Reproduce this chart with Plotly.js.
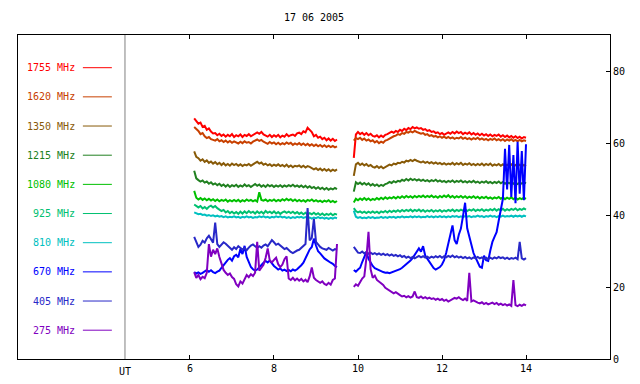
<!DOCTYPE html>
<html><head><meta charset="utf-8">
<script src="https://cdn.plot.ly/plotly-3.0.1.min.js"></script>
<style>html,body{margin:0;padding:0;background:#fff;}#chart{width:640px;height:384px;}</style>
</head><body><div id="chart"></div>
<script>
const chartTitle = "17 06 2005";
const axisLabel = "UT";
const labels = ["1755 MHz","1620 MHz","1350 MHz","1215 MHz","1080 MHz","925 MHz","810 MHz","670 MHz","405 MHz","275 MHz"];
const colors = ["#ff0000","#c84000","#885a08","#208020","#00c000","#00c070","#00c0c0","#0000ff","#2828c8","#8000c0"];
const xTicks = [6, 8, 10, 12, 14];
const yTicks = [0, 20, 40, 60, 80];

const hours = [
6.10,6.15,6.20,6.25,6.30,6.35,6.40,6.45,6.50,6.55,
6.60,6.65,6.70,6.75,6.80,6.85,6.90,6.95,7.00,7.05,
7.10,7.15,7.20,7.25,7.30,7.35,7.40,7.45,7.50,7.55,
7.60,7.65,7.70,7.75,7.80,7.85,7.90,7.95,8.00,8.05,
8.10,8.15,8.20,8.25,8.30,8.35,8.40,8.45,8.50,8.55,
8.60,8.65,8.70,8.75,8.80,8.85,8.90,8.95,9.00,9.05,
9.10,9.15,9.20,9.25,9.30,9.35,9.40,9.45,9.50,
9.70,
9.90,9.95,10.00,10.05,10.10,10.15,10.20,10.25,10.30,10.35,
10.40,10.45,10.50,10.55,10.60,10.65,10.70,10.75,10.80,10.85,
10.90,10.95,11.00,11.05,11.10,11.15,11.20,11.25,11.30,11.35,
11.40,11.45,11.50,11.55,11.60,11.65,11.70,11.75,11.80,11.85,
11.90,11.95,12.00,12.05,12.10,12.15,12.20,12.25,12.30,12.35,
12.40,12.45,12.50,12.55,12.60,12.65,12.70,12.75,12.80,12.85,
12.90,12.95,13.00,13.05,13.10,13.15,13.20,13.25,13.30,13.35,
13.40,13.45,13.50,13.55,13.60,13.65,13.70,13.75,13.80,13.85,
13.90,13.95,14.00];

const f1755 = [
67.0,66.2,65.5,65.8,64.6,64.9,63.8,64.2,63.3,62.8,
62.9,62.3,62.7,62.1,62.5,61.9,62.4,62.0,62.6,61.8,
62.3,62.0,62.5,61.8,62.4,62.1,62.6,62.0,62.3,62.8,
63.1,62.7,63.2,62.5,62.2,61.9,62.4,61.8,62.3,61.9,
62.4,61.7,62.2,61.9,62.6,62.0,62.3,62.5,62.1,62.8,
63.0,62.6,63.4,63.1,64.4,63.9,63.2,62.0,62.4,61.6,
61.9,61.2,61.6,60.9,61.4,60.8,61.3,60.7,61.1,
null,
56.0,62.5,63.2,62.6,63.0,62.4,62.9,62.3,62.7,62.1,
61.9,62.3,61.7,62.2,61.8,62.4,62.6,62.9,63.3,63.0,
63.5,63.2,63.8,63.5,64.1,63.7,64.3,64.0,64.6,64.2,
64.5,64.1,64.3,63.8,64.0,63.5,63.7,63.2,63.4,62.9,
63.1,62.6,62.9,62.4,62.8,63.1,62.7,63.2,62.8,63.3,
62.9,63.2,62.6,63.0,62.7,63.1,62.5,62.9,62.4,62.8,
62.3,62.7,62.2,62.6,62.1,62.5,62.0,62.4,62.1,62.5,
61.9,62.3,61.8,62.2,61.7,62.1,61.6,62.0,61.5,61.9,
61.4,61.8,61.6];

const f1620 = [
64.6,64.0,63.5,62.6,62.9,62.0,61.5,61.8,61.2,61.0,
60.8,61.2,60.6,60.9,60.4,60.8,60.3,60.7,60.2,60.6,
60.4,60.0,60.5,60.1,60.6,60.2,60.4,60.0,60.5,60.8,
61.1,60.7,61.0,60.5,60.3,59.9,60.4,60.0,60.3,59.8,
60.2,59.7,60.1,59.8,60.3,59.9,60.2,59.6,60.0,59.7,
60.1,59.6,60.0,59.5,59.9,59.4,59.8,59.3,59.7,59.2,
59.6,59.1,59.5,59.0,59.4,59.0,59.3,58.9,59.2,
null,
60.8,61.5,61.2,61.6,61.0,61.4,60.8,61.1,60.6,60.9,
60.3,60.7,60.1,60.5,60.2,60.8,61.0,61.4,61.7,62.0,
62.2,62.6,62.4,62.9,62.7,63.2,63.0,63.4,63.1,63.5,
63.2,63.0,62.7,62.9,62.4,62.6,62.1,62.3,61.9,62.1,
61.7,62.0,61.6,61.9,61.5,61.8,61.4,61.7,61.3,61.6,
61.4,61.8,61.3,61.6,61.2,61.5,61.1,61.5,61.2,61.6,
61.1,61.4,61.0,61.3,60.9,61.3,61.0,61.4,60.9,61.2,
60.8,61.2,60.7,61.1,60.8,61.2,60.7,61.0,60.6,61.0,
60.6,60.9,60.7];

const f1350 = [
57.8,56.3,55.9,55.2,55.6,54.9,55.3,54.6,55.0,54.4,
54.8,54.2,54.6,54.0,54.5,53.9,54.3,53.8,54.4,54.0,
54.3,53.8,54.2,53.7,54.1,53.9,54.3,53.8,54.2,54.6,
54.9,54.4,54.7,54.1,54.4,53.9,54.2,53.7,54.1,53.8,
54.2,53.7,54.0,53.6,54.1,53.5,53.9,53.4,53.8,53.6,
53.9,53.4,53.8,53.3,53.7,53.5,53.2,52.8,53.1,52.6,
53.0,52.5,52.9,52.4,52.8,52.3,52.7,52.4,52.8,
null,
51.0,54.2,54.6,54.0,54.4,53.9,54.3,53.7,54.0,53.5,
53.3,53.7,53.2,53.6,53.1,53.5,53.8,54.1,53.9,54.4,
54.2,54.6,54.5,54.9,54.7,55.2,55.0,55.4,55.1,55.5,
55.2,55.0,54.7,55.0,54.6,54.9,54.5,54.8,54.4,54.7,
54.3,54.6,54.2,54.5,54.1,54.4,54.2,54.6,54.1,54.5,
54.2,54.6,54.0,54.4,54.1,54.5,54.0,54.3,53.9,54.3,
54.0,54.4,53.9,54.3,54.0,54.4,53.8,54.2,53.9,54.3,
53.8,54.2,53.7,54.1,53.8,54.2,53.6,54.0,53.7,54.1,
53.6,54.0,53.7];

const f1215 = [
52.4,50.3,49.8,49.4,49.7,49.1,49.4,48.8,49.2,48.6,
48.9,48.4,48.8,48.2,48.6,48.0,48.5,47.9,48.4,48.1,
48.5,47.9,48.3,48.0,48.6,48.1,48.4,47.9,48.3,48.7,
48.2,48.6,48.0,48.4,47.9,48.5,48.1,48.4,47.9,48.3,
48.0,48.4,47.9,48.3,48.0,48.4,48.1,48.5,48.0,48.3,
47.9,48.3,47.8,48.2,47.7,48.1,47.6,47.9,47.4,47.8,
47.3,47.7,47.2,47.6,47.1,47.5,47.2,47.6,47.3,
null,
46.6,49.2,48.7,49.1,48.6,49.0,48.5,48.9,48.3,48.7,
48.2,48.6,48.1,48.5,48.2,48.7,48.9,49.3,49.0,49.5,
49.2,49.6,49.4,49.9,49.6,50.1,49.7,50.2,49.8,50.1,
49.7,50.0,49.6,49.9,49.5,49.8,49.4,49.8,49.5,49.9,
49.4,49.7,49.3,49.6,49.2,49.6,49.3,49.7,49.2,49.6,
49.3,49.7,49.2,49.5,49.1,49.5,49.2,49.6,49.1,49.4,
49.0,49.4,49.1,49.5,49.0,49.3,48.9,49.3,49.0,49.4,
48.9,49.3,48.8,49.2,48.9,49.3,48.8,49.1,48.7,49.1,
48.8,49.2,48.9];

const f1080 = [
46.8,44.9,44.4,44.8,44.3,44.7,44.2,44.6,44.1,44.5,
44.0,44.4,43.9,44.3,44.0,44.4,43.8,44.2,43.9,44.3,
43.9,44.3,43.8,44.2,43.9,44.4,44.0,44.3,43.9,44.2,
43.8,46.4,44.3,44.1,44.4,43.9,44.3,44.0,44.4,43.9,
44.3,44.0,44.5,44.1,44.6,44.2,44.5,44.0,44.4,43.9,
44.3,43.9,44.2,43.8,44.3,44.0,44.4,43.9,44.2,43.8,
44.1,43.7,44.1,43.8,44.2,43.7,44.0,43.6,44.0,
null,
43.6,44.6,44.2,44.7,44.3,44.8,44.3,44.7,44.2,44.6,
44.3,44.8,44.4,44.9,44.5,45.0,44.6,45.0,44.7,45.1,
44.7,45.2,44.8,45.3,44.9,45.4,45.0,45.3,44.9,45.4,
45.0,45.4,45.1,45.5,45.0,45.4,45.1,45.5,45.0,45.3,
44.9,45.4,45.0,45.5,45.1,45.6,45.0,45.4,44.9,45.3,
45.0,45.4,44.9,45.3,44.8,45.2,44.9,45.3,44.8,45.2,
44.7,45.1,44.8,45.2,44.7,45.0,44.6,45.0,44.7,45.1,
44.6,45.0,44.5,44.9,44.6,45.0,44.5,44.9,44.4,44.8,
44.5,44.9,44.6];

const f925 = [
43.0,42.5,42.2,42.6,41.9,42.3,41.8,42.4,42.7,42.2,
42.6,42.0,41.6,41.2,41.5,40.8,41.2,40.6,41.0,40.5,
40.9,40.4,41.0,40.5,41.1,40.6,41.2,40.7,41.0,40.5,
41.1,40.6,41.0,40.5,41.2,40.7,41.0,40.6,41.1,40.5,
40.9,40.4,40.8,41.1,40.7,41.0,40.6,41.0,40.5,40.9,
40.4,40.8,40.3,40.7,40.2,40.6,40.3,40.7,40.2,40.6,
40.1,40.5,40.0,40.4,40.1,40.5,40.0,40.4,40.2,
null,
42.0,41.2,40.8,41.1,40.7,41.0,40.6,41.0,40.7,41.1,
40.7,41.0,40.6,41.1,40.8,41.2,40.8,41.3,40.9,41.3,
41.0,41.4,41.0,41.5,41.1,41.5,41.2,41.6,41.1,41.5,
41.2,41.6,41.1,41.5,41.0,41.4,41.1,41.5,41.0,41.4,
41.1,41.5,41.0,41.4,41.1,41.5,41.2,41.6,41.1,41.5,
41.2,41.6,41.3,41.7,41.2,41.6,41.3,41.7,41.2,41.6,
41.3,41.7,41.2,41.6,41.3,41.7,41.4,41.8,41.3,41.7,
41.4,41.8,41.3,41.7,41.4,41.8,41.5,41.9,41.4,41.8,
41.5,41.9,41.6];

const f810 = [
40.8,40.5,40.3,40.4,40.1,40.2,39.9,40.1,39.8,40.0,
39.7,39.9,39.6,39.8,39.5,39.7,39.4,39.6,39.5,39.7,
39.4,39.6,39.3,39.6,39.4,39.7,39.4,39.6,39.3,39.5,
39.4,39.7,39.5,39.7,39.4,39.6,39.3,39.6,39.4,39.7,
39.5,39.7,39.4,39.6,39.3,39.5,39.2,39.5,39.3,39.6,
39.4,39.6,39.3,39.5,39.2,39.4,39.1,39.4,39.2,39.5,
39.2,39.4,39.1,39.3,39.0,39.3,39.1,39.4,39.2,
null,
41.3,39.6,39.3,39.5,39.2,39.4,39.2,39.5,39.3,39.5,
39.2,39.4,39.3,39.6,39.3,39.5,39.3,39.6,39.4,39.6,
39.3,39.6,39.4,39.7,39.4,39.6,39.5,39.7,39.4,39.7,
39.5,39.7,39.4,39.6,39.5,39.8,39.5,39.7,39.4,39.7,
39.5,39.8,39.5,39.7,39.4,39.7,39.5,39.8,39.6,39.8,
39.5,39.7,39.5,39.8,39.6,39.8,39.5,39.7,39.6,39.9,
39.6,39.8,39.5,39.8,39.6,39.9,39.6,39.8,39.5,39.8,
39.6,39.9,39.6,39.8,39.7,39.9,39.6,39.9,39.7,39.9,
39.6,39.9,39.7];

const f670 = [
24.2,23.8,24.1,23.7,24.0,24.4,24.8,24.3,24.7,24.2,
23.9,24.3,24.6,25.4,26.2,26.9,27.6,28.1,27.4,28.6,
29.0,28.3,30.6,29.2,31.5,28.4,26.8,25.6,25.0,24.6,
24.9,25.6,26.2,26.8,27.3,26.9,27.4,26.5,25.9,25.4,
24.9,25.2,24.6,24.9,24.5,24.8,24.4,24.9,24.6,25.0,
25.5,26.1,26.8,28.0,29.4,30.5,31.2,33.5,31.6,30.0,
29.4,28.6,28.0,27.6,27.1,26.8,26.5,25.9,25.6,
null,
24.8,24.3,24.9,25.4,27.0,28.6,29.8,27.9,26.7,25.9,
25.3,25.0,24.6,24.4,24.2,24.0,24.1,23.9,24.1,24.3,
24.5,24.8,25.0,25.4,25.9,26.3,26.8,27.4,28.1,29.0,
29.6,30.8,29.9,31.4,28.8,27.9,26.8,25.9,25.3,24.9,
25.2,25.6,26.3,27.5,29.6,32.4,34.8,37.2,33.1,32.0,
34.6,36.3,39.8,43.5,36.4,34.2,31.3,29.5,28.2,27.0,
25.7,25.4,28.8,27.5,27.3,30.2,32.6,34.0,35.3,38.5,
41.2,44.6,58.5,47.2,59.6,45.1,56.8,43.4,60.5,46.0,
57.9,44.2,59.8];

const f405 = [
34.0,32.6,31.2,31.8,32.9,32.4,33.6,34.3,33.2,32.4,
38.0,32.0,31.2,31.8,32.5,32.1,31.5,30.8,30.4,31.1,
30.6,31.4,31.0,30.5,30.9,30.3,31.0,31.6,31.9,31.3,
30.9,31.4,31.0,31.6,31.9,31.4,32.2,33.1,32.5,31.8,
32.1,31.5,31.0,30.6,30.9,30.2,29.8,29.5,29.9,30.2,
30.4,30.9,31.5,32.0,42.0,33.0,33.7,39.0,32.6,31.8,
31.2,30.8,30.5,30.4,30.9,30.5,30.2,30.6,30.4,
null,
31.2,30.3,29.6,29.5,29.9,29.4,29.8,29.3,29.6,29.2,
29.5,29.1,29.4,29.0,29.3,28.9,29.2,28.8,29.1,28.7,
29.0,28.6,28.9,28.4,28.7,28.2,28.5,28.1,28.4,28.0,
28.4,28.7,28.3,28.6,28.2,28.5,28.1,28.5,28.2,28.6,
28.3,28.7,28.2,28.6,28.3,28.7,28.4,28.8,28.3,28.6,
28.2,28.5,28.1,28.4,28.0,28.3,27.9,28.3,28.0,28.4,
28.0,28.3,27.9,28.2,27.8,28.2,27.9,28.3,28.0,28.4,
28.1,28.3,27.9,28.2,27.8,28.1,27.9,28.2,27.8,32.6,
28.0,27.7,28.1];

const f275 = [
24.2,22.6,23.4,22.2,22.9,22.5,24.0,32.0,28.5,30.4,
29.2,30.8,28.4,26.5,24.8,24.0,23.4,23.8,22.8,22.3,
20.8,20.2,21.6,21.0,22.4,23.4,22.8,23.6,23.1,24.0,
32.6,24.6,25.4,26.2,28.1,30.8,27.4,26.9,27.6,28.2,
26.4,25.6,26.3,27.8,28.6,22.4,22.0,22.6,21.9,22.4,
21.8,22.3,21.6,22.1,21.4,23.0,25.5,22.6,22.0,21.5,
21.2,21.6,20.9,20.6,21.2,20.7,22.0,22.4,32.0,
null,
20.1,20.8,20.4,21.6,22.4,23.0,28.1,35.4,25.0,22.6,
23.2,22.0,21.6,21.2,20.6,19.8,19.4,18.9,18.7,18.3,
18.6,18.1,17.8,17.4,17.6,17.2,17.5,17.1,17.4,18.8,
17.2,17.0,17.4,16.9,17.2,16.8,17.1,16.7,16.9,16.5,
16.8,16.4,16.7,16.2,16.5,16.0,16.3,16.6,17.0,16.8,
17.2,16.7,16.4,16.8,16.2,24.0,16.0,16.3,15.9,15.7,
15.5,15.8,15.3,15.6,15.2,15.5,15.7,15.3,15.6,15.1,
15.4,15.0,15.3,14.9,15.2,14.8,22.0,15.0,14.7,15.1,
14.8,15.2,14.9];

const series = [f1755, f1620, f1350, f1215, f1080, f925, f810, f670, f405, f275];
series.forEach((s, i) => { if (s.length !== hours.length) throw new Error(labels[i] + " length " + s.length + " vs " + hours.length); });

const mono = "DejaVu Sans Mono, monospace";
const traces = series.map((s, i) => ({
  x: hours, y: s, type: "scatter", mode: "lines", connectgaps: false,
  line: {color: colors[i], width: 2}, hoverinfo: "skip", name: labels[i]
}));

// legend placement (style): label right edge, line span, first row and row step in y units
const legTextX = 3.30, legLine0 = 3.45, legLine1 = 4.14, legTop = 81.1, legStep = 8.12;
const annotations = labels.map((lab, i) => ({
  xref: "x", yref: "y", x: legTextX, y: legTop - i * legStep, text: lab,
  xanchor: "right", yanchor: "middle", showarrow: false,
  font: {family: mono, size: 10, color: colors[i]}
}));
annotations.push({xref: "x", yref: "paper", x: 4.452, y: 0, yanchor: "top", yshift: -5,
  text: axisLabel, showarrow: false, font: {family: mono, size: 10, color: "#000"}});
const shapes = labels.map((lab, i) => ({
  type: "line", xref: "x", yref: "y", x0: legLine0, x1: legLine1,
  y0: legTop - i * legStep, y1: legTop - i * legStep, line: {color: colors[i], width: 1}
}));
shapes.push({type: "line", xref: "x", yref: "paper", x0: 4.452, x1: 4.452, y0: 0, y1: 1,
  line: {color: "#808080", width: 1}});

const layout = {
  width: 640, height: 384,
  margin: {l: 18, r: 30, t: 35, b: 25, pad: 0},
  paper_bgcolor: "#ffffff", plot_bgcolor: "#ffffff",
  showlegend: false, hovermode: false,
  font: {family: mono, size: 10, color: "#000"},
  title: {text: chartTitle, font: {family: mono, size: 10, color: "#000"},
          x: 0.5, xref: "paper", y: 1 - 17/384, yref: "container", yanchor: "middle"},
  xaxis: {range: [1.905, 16], tickvals: xTicks, ticks: "inside", ticklen: 4, tickcolor: "#000",
          showline: true, linecolor: "#000", linewidth: 1, mirror: "ticks",
          showgrid: false, zeroline: false, fixedrange: true,
          tickfont: {family: mono, size: 10, color: "#000"}},
  yaxis: {range: [0, 90.2], side: "right", tickvals: yTicks, ticks: "inside", ticklen: 4, tickcolor: "#000",
          showline: true, linecolor: "#000", linewidth: 1, mirror: true,
          showgrid: false, zeroline: false, fixedrange: true,
          tickfont: {family: mono, size: 10, color: "#000"}},
  annotations: annotations, shapes: shapes
};

Plotly.newPlot("chart", traces, layout, {displayModeBar: false, staticPlot: true});
</script></body></html>
